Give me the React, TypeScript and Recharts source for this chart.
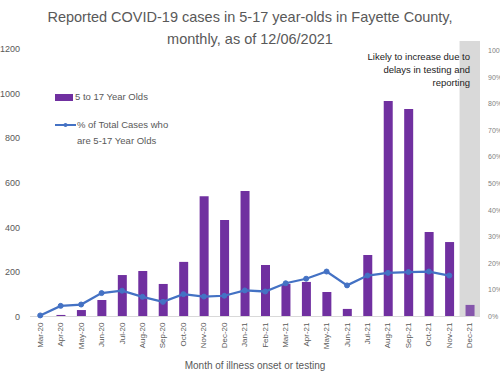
import React from "react";
import {
  ComposedChart,
  Bar,
  Line,
  XAxis,
  YAxis,
  Cell,
  Legend,
  ReferenceArea,
} from "recharts";

const months = [
  "Mar-20", "Apr-20", "May-20", "Jun-20", "Jul-20", "Aug-20", "Sep-20", "Oct-20",
  "Nov-20", "Dec-20", "Jan-21", "Feb-21", "Mar-21", "Apr-21", "May-21", "Jun-21",
  "Jul-21", "Aug-21", "Sep-21", "Oct-21", "Nov-21", "Dec-21",
];
const cases = [2, 7, 29, 74, 186, 204, 146, 245, 540, 433, 563, 231, 146, 155, 110, 34, 276, 967, 931, 379, 334, 52];
const pctOfTotal: (number | null)[] = [
  0.4, 4, 4.5, 8.8, 9.7, 7.4, 5.5, 8.4, 7.5, 7.8, 9.8, 9.4, 12.5, 14.2, 16.9, 11.7,
  15.4, 16.4, 16.7, 16.9, 15.4, null,
];
const leftTicks = [0, 200, 400, 600, 800, 1000, 1200];
const rightTicks = [0, 10, 20, 30, 40, 50, 60, 70, 80, 90, 100];
const incompleteMonth = "Dec-21";

const data = months.map((m, i) => ({ month: m, idx: i, cases: cases[i], pct: pctOfTotal[i] }));
const incompleteIdx = months.indexOf(incompleteMonth);

const FONT = "'Liberation Sans', Arial, sans-serif";
const GREY = "#595959";
const PURPLE = "#7030A0";
const BLUE = "#4472C4";

const XTick = (props: any) => {
  const { x, y, payload } = props;
  return (
    <text
      x={x}
      y={y}
      transform={`rotate(-90 ${x} ${y})`}
      textAnchor="end"
      dominantBaseline="central"
      fontSize={8}
      fill={GREY}
      fontFamily={FONT}
    >
      {payload.value}
    </text>
  );
};

const LegendContent = () => (
  <div style={{ fontFamily: FONT, fontSize: 9.5, color: GREY, lineHeight: "15.5px", textAlign: "left" }}>
    <div style={{ display: "flex", alignItems: "center", height: 16 }}>
      <span style={{ display: "inline-block", width: 18, height: 7, background: PURPLE, marginRight: 2 }} />
      <span>5 to 17 Year Olds</span>
    </div>
    <div style={{ display: "flex", alignItems: "flex-start", marginTop: 12 }}>
      <svg width={21} height={16} style={{ marginRight: 1 }}>
        <line x1={0} y1={8} x2={21} y2={8} stroke={BLUE} strokeWidth={2} />
        <circle cx={10.5} cy={8} r={2} fill={BLUE} />
      </svg>
      <span>
        % of Total Cases who
        <br />
        are 5-17 Year Olds
      </span>
    </div>
  </div>
);

export default function App() {
  const leftMax = 1200 * (316.5 - 41) / (316.5 - 49);
  const rightMax = 100 * (316.5 - 41) / (316 - 50);
  return (
    <div style={{ position: "absolute", left: 0, top: 0, width: 500, height: 373, background: "#fff" }}>
      <div
        style={{
          position: "absolute",
          left: 0,
          top: 6,
          width: 500,
          textAlign: "center",
          fontFamily: FONT,
          fontSize: 14.5,
          lineHeight: "22px",
          color: GREY,
        }}
      >
        Reported COVID-19 cases in 5-17 year-olds in Fayette County,
        <br />
        monthly, as of 12/06/2021
      </div>
      <ComposedChart
        width={500}
        height={373}
        data={data}
        margin={{ top: 41, right: 0, bottom: 0, left: 0 }}
        style={{ position: "absolute", left: 0, top: 0 }}
      >
        <XAxis
          dataKey="month"
          interval={0}
          height={56.5}
          tick={<XTick />}
          tickLine={false}
          tickSize={0}
          tickMargin={6}
          axisLine={{ stroke: "#d9d9d9" }}
          label={{
            value: "Month of illness onset or testing",
            position: "insideBottom",
            offset: 4,
            fontSize: 10,
            fill: GREY,
            fontFamily: FONT,
          }}
        />
        <XAxis xAxisId="bg" type="number" domain={[-0.5, months.length - 0.5]} hide allowDataOverflow dataKey="idx" />
        <YAxis
          yAxisId="left"
          width={30}
          domain={[0, leftMax]}
          ticks={leftTicks}
          axisLine={false}
          tickLine={false}
          tickSize={0}
          tickMargin={10}
          tick={{ fontSize: 9, fill: GREY, fontFamily: FONT }}
        />
        <YAxis
          yAxisId="right"
          orientation="right"
          width={20}
          domain={[0, rightMax]}
          ticks={rightTicks}
          tickFormatter={(v: number) => `${v}%`}
          axisLine={false}
          tickLine={false}
          tickSize={0}
          tickMargin={8}
          tick={{ fontSize: 7, fill: "#7f7f7f", fontFamily: FONT, textAnchor: "start" }}
        />
        <ReferenceArea
          xAxisId="bg"
          yAxisId="left"
          x1={incompleteIdx - 0.5}
          x2={incompleteIdx + 0.5}
          fill="#d9d9d9"
          fillOpacity={1}
          stroke="none"
          ifOverflow="visible"
        />
        <Bar yAxisId="left" dataKey="cases" barSize={9} isAnimationActive={false} name="5 to 17 Year Olds">
          {data.map((d) => (
            <Cell key={d.month} fill={d.month === incompleteMonth ? "#8556ab" : PURPLE} />
          ))}
        </Bar>
        <Line
          yAxisId="right"
          dataKey="pct"
          stroke={BLUE}
          strokeWidth={2.25}
          dot={{ r: 2.5, fill: BLUE, stroke: BLUE, strokeWidth: 1 }}
          isAnimationActive={false}
          name="% of Total Cases who are 5-17 Year Olds"
        />
        <Legend
          content={<LegendContent />}
          layout="horizontal"
          verticalAlign="middle"
          align="center"
          wrapperStyle={{ position: "absolute", left: 55, top: 89, width: 140 }}
        />
      </ComposedChart>
      <div
        style={{
          position: "absolute",
          right: 30,
          top: 50,
          textAlign: "right",
          fontFamily: FONT,
          fontSize: 9.5,
          lineHeight: "13px",
          color: "#222",
        }}
      >
        Likely to increase due to
        <br />
        delays in testing and
        <br />
        reporting
      </div>
    </div>
  );
}
